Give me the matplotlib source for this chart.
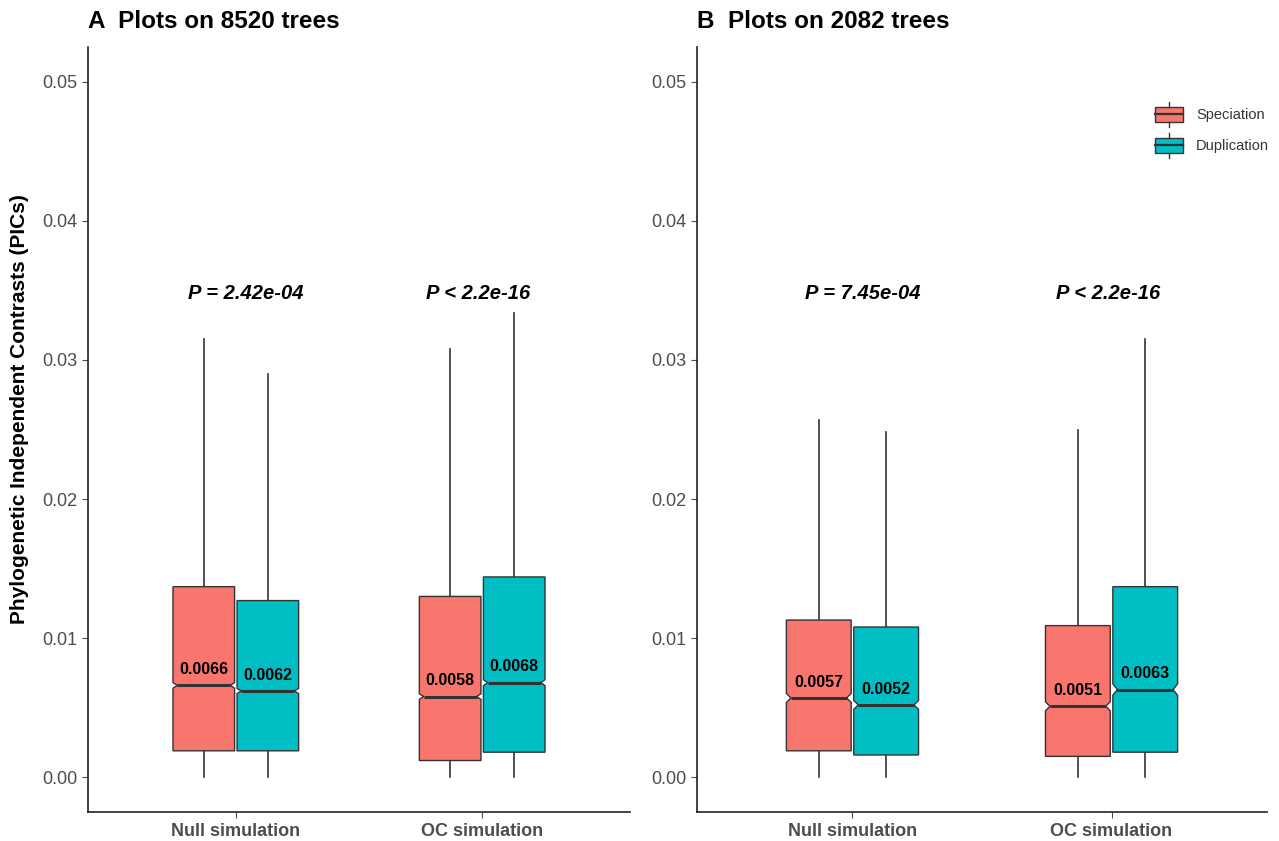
import numpy as np
import matplotlib
matplotlib.use("Agg")
import matplotlib.pyplot as plt
from matplotlib.legend_handler import HandlerBase
from matplotlib.patches import Rectangle, Polygon
from matplotlib.lines import Line2D

plt.rcParams["font.family"] = ["Liberation Sans", "DejaVu Sans"]

# data
groups = ["Null simulation", "OC simulation"]
panel_titles = ["A  Plots on 8520 trees", "B  Plots on 2082 trees"]
n_trees = [8520, 2082]
p_labels = [["P = 2.42e-04", "P < 2.2e-16"], ["P = 7.45e-04", "P < 2.2e-16"]]
p_x = [1.04, 1.985]
p_y = 0.0348

# panel A
a_spec_q1 = [0.0019, 0.0012]
a_spec_med = [0.0066, 0.0058]
a_spec_q3 = [0.0137, 0.0130]
a_spec_hi = [0.0315, 0.0308]
a_dup_q1 = [0.0019, 0.0018]
a_dup_med = [0.0062, 0.0068]
a_dup_q3 = [0.0127, 0.0144]
a_dup_hi = [0.0290, 0.0334]

# panel B
b_spec_q1 = [0.0019, 0.0015]
b_spec_med = [0.0057, 0.0051]
b_spec_q3 = [0.0113, 0.0109]
b_spec_hi = [0.0257, 0.0250]
b_dup_q1 = [0.0016, 0.0018]
b_dup_med = [0.0052, 0.0063]
b_dup_q3 = [0.0108, 0.0137]
b_dup_hi = [0.0248, 0.0315]

whis_lo = [0.0, 0.0]

panels = [
    [(a_spec_q1, a_spec_med, a_spec_q3, a_spec_hi), (a_dup_q1, a_dup_med, a_dup_q3, a_dup_hi)],
    [(b_spec_q1, b_spec_med, b_spec_q3, b_spec_hi), (b_dup_q1, b_dup_med, b_dup_q3, b_dup_hi)],
]

series_names = ["Speciation", "Duplication"]
colors = ["#F8766D", "#00BFC4"]
edge = "#333333"
tick_grey = "#4D4D4D"

W, H = 1279, 841
fig = plt.figure(figsize=(W / 100, H / 100), dpi=100)

# axes boxes in pixels (left, right)
ax_px = [(88, 630), (697, 1267)]
top_px, bot_px = 47, 812

box_w = 0.25
offsets = [-0.13, 0.13]
inset = 0.07 * box_w


def notched_box(ax, xc, q1, med, q3, lo, hi, n, fc):
    half = 1.58 * (q3 - q1) / np.sqrt(n)
    l, r = xc - box_w / 2, xc + box_w / 2
    pts = [(l, q1), (r, q1), (r, med - half), (r - inset, med), (r, med + half),
           (r, q3), (l, q3), (l, med + half), (l + inset, med), (l, med - half)]
    ax.add_patch(Polygon(pts, closed=True, facecolor=fc, edgecolor=edge,
                         linewidth=1.0, zorder=2))
    ax.plot([l + inset, r - inset], [med, med], color=edge, lw=2.2,
            solid_capstyle="butt", zorder=3)
    ax.plot([xc, xc], [q3, hi], color=edge, lw=1.2, zorder=1)
    ax.plot([xc, xc], [lo, q1], color=edge, lw=1.2, zorder=1)


for k, (lpx, rpx) in enumerate(ax_px):
    ax = fig.add_axes([lpx / W, 1 - bot_px / H, (rpx - lpx) / W, (bot_px - top_px) / H])
    x = np.arange(1, len(groups) + 1)
    for s in range(2):
        q1, med, q3, hi = panels[k][s]
        for i in range(len(groups)):
            xc = x[i] + offsets[s]
            notched_box(ax, xc, q1[i], med[i], q3[i], whis_lo[i], hi[i],
                        n_trees[k], colors[s])
            ax.annotate(f"{med[i]:.4f}", (xc, med[i]),
                        xytext=(0, 6), textcoords="offset points",
                        ha="center", va="bottom", fontsize=11.5,
                        fontweight="bold", color="black", zorder=4)
    for i in range(len(groups)):
        ax.text(p_x[i], p_y, p_labels[k][i], ha="center", va="center",
                fontsize=14.5, fontweight="bold", style="italic", color="black")

    ax.set_xlim(0.4, 2.6)
    ax.set_ylim(-0.0025, 0.0525)
    ax.set_yticks([0, 0.01, 0.02, 0.03, 0.04, 0.05])
    ax.set_yticklabels(["0.00", "0.01", "0.02", "0.03", "0.04", "0.05"])
    ax.set_xticks(x)
    ax.set_xticklabels(groups, fontweight="bold")
    ax.tick_params(axis="both", colors=tick_grey, labelsize=13, length=4, width=0.8)
    ax.tick_params(axis="x", pad=4)
    for sp in ["top", "right"]:
        ax.spines[sp].set_visible(False)
    for sp in ["left", "bottom"]:
        ax.spines[sp].set_color("#222222")
        ax.spines[sp].set_linewidth(1.2)
    fig.text(lpx / W, 1 - 22 / H, panel_titles[k], fontsize=17.5,
             fontweight="bold", ha="left", va="center")
    if k == 0:
        ax.set_ylabel("Phylogenetic Independent Contrasts (PICs)",
                      fontsize=15, fontweight="bold")
        ax.yaxis.set_label_coords((29 - lpx) / (rpx - lpx), 0.527)


class BoxHandler(HandlerBase):
    def create_artists(self, legend, orig_handle, xdescent, ydescent,
                       width, height, fontsize, trans):
        fc = orig_handle.get_facecolor()
        x0, y0 = -xdescent, -ydescent
        r = Rectangle((x0, y0 + height * 0.05), width, height * 0.9,
                      facecolor=fc, edgecolor=edge, linewidth=1.0, transform=trans)
        m = Line2D([x0, x0 + width], [y0 + height / 2] * 2,
                   color=edge, linewidth=1.6, transform=trans)
        w1 = Line2D([x0 + width / 2] * 2, [y0 + height * 0.95, y0 + height * 1.25],
                    color=edge, linewidth=1.0, transform=trans)
        w2 = Line2D([x0 + width / 2] * 2, [y0 + height * 0.05, y0 - height * 0.25],
                    color=edge, linewidth=1.0, transform=trans)
        return [r, m, w1, w2]


handles = [Rectangle((0, 0), 1, 1, facecolor=c) for c in colors]
fig.legend(handles, series_names, handler_map={Rectangle: BoxHandler()},
           loc="upper left", bbox_to_anchor=(1142 / W, 1 - 93 / H),
           frameon=False, fontsize=10.5, handlelength=1.9, handleheight=1.35,
           labelspacing=1.0, handletextpad=0.9, labelcolor="#333333")

fig.savefig("out.png", dpi=100)
